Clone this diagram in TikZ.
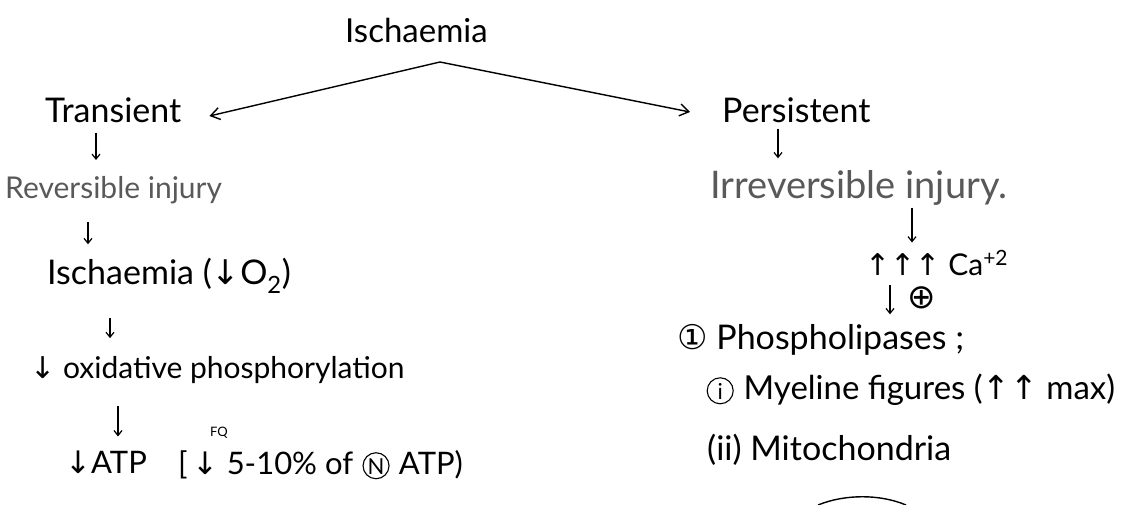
\documentclass[tikz,border=0pt]{standalone}
\usepackage{fontspec}
\setmainfont{Lato}
\newfontfamily\symfont{DejaVu Sans}
\usetikzlibrary{arrows.meta}
\newcommand{\fsz}[1]{\fontsize{#1}{#1}\selectfont}
\newcommand{\sy}[1]{{\symfont #1}}
% a letter set inside a drawn ring
\newcommand{\ringed}[1]{\makebox[30pt]{%
  \makebox[0pt]{\tikz[baseline=-9pt]\draw[line width=1.1pt] (0,0) circle[radius=13pt];}%
  \makebox[0pt]{\fsz{22}#1}}}
\tikzset{
  lbl/.style={anchor=west, inner sep=0pt, text=black, font=\fsz{33}},
  faint/.style={text=black!65},
  conn/.style={line width=1.4pt, -{Straight Barb[length=9pt,width=12pt,line width=1.4pt]}},
  vflow/.style={line width=1.2pt, -{Straight Barb[length=5pt,width=8pt,line width=1.2pt]}},
}
\begin{document}
\begin{tikzpicture}[x=1pt,y=-1pt]
\useasboundingbox (0,0) rectangle (1143,505);

% root
\node[lbl] (isch) at (345,30) {Ischaemia};
\coordinate (apex) at (440,62);

% left branch: transient ischaemia
\node[lbl,font=\fsz{34}] (trans) at (45,110) {Transient};
\node[lbl,faint,font=\fsz{30}] (rev) at (5,190) {Reversible injury};
\node[lbl,font=\fsz{34}] (isch2) at (47,276) {Ischaemia (\sy{↓}O\textsubscript{2})};
\node[lbl,font=\fsz{30}] (oxi) at (30,370) {\sy{↓} oxidative phosphorylation};
\node[lbl,font=\fsz{31}] (atp) at (65,462) {\sy{↓}ATP};
\node[lbl,font=\fsz{31}] (pct) at (178,465) {[\,\sy{↓} 5-10\% of \ringed{N} ATP)};
\node[lbl,font=\fsz{13}] (fq) at (210,433) {FQ};

% right branch: persistent ischaemia
\node[lbl,font=\fsz{34}] (pers) at (722,110) {Persistent};
\node[lbl,faint,font=\fsz{38}] (irr) at (710,188) {Irreversible injury.};
\node[lbl,font=\fsz{30}] (ca) at (865,263) {\sy{↑↑↑} Ca\textsuperscript{+2}};
\node[lbl,font=\fsz{34}] (phos) at (677,340) {\sy{①} Phospholipases ;};
\node[lbl,font=\fsz{33}] (myel) at (705,390) {\ringed{i} Myeline figures (\sy{↑↑} max)};
\node[lbl,font=\fsz{34}] (mito) at (707,450) {(ii) Mitochondria};
\node[inner sep=0pt,font=\fsz{34}] (act) at (922,298) {\sy{⊕}};

% branching arrows
\draw[conn] (apex) -- ([xshift=28pt,yshift=-6pt]trans.east);
\draw[conn] (apex) -- ([xshift=-32pt,yshift=-2pt]pers.west);

% step arrows
\coordinate (c1) at (96,0);
\coordinate (c2) at (88,0);
\coordinate (c3) at (110,0);
\coordinate (c4) at (118,0);
\coordinate (d1) at (778,0);
\coordinate (d2) at (912,0);
\coordinate (d3) at (890,0);
\draw[vflow,shorten <=10pt,shorten >=16pt] (trans.south -| c1) -- (rev.north -| c1);
\draw[vflow,shorten <=18pt,shorten >=14pt] (rev.south -| c2) -- (isch2.north -| c2);
\draw[vflow,shorten <=24pt,shorten >=18pt] (isch2.south -| c3) -- (oxi.north -| c3);
\draw[vflow,shorten <=22pt,shorten >=14pt] (oxi.south -| c4) -- (atp.north -| c4);
\draw[vflow,shorten <=6pt,shorten >=12pt] (pers.south -| d1) -- (irr.north -| d1);
\draw[vflow,shorten <=2pt,shorten >=8pt] (irr.south -| d2) -- (ca.north -| d2);
\draw[vflow,shorten <=10pt,shorten >=10pt] (ca.south -| d3) -- (phos.north -| d3);

% edge of a shape below
\draw[line width=1.4pt] (818,505) .. controls (845,494) and (880,494) .. (906,505);
\end{tikzpicture}
\end{document}
